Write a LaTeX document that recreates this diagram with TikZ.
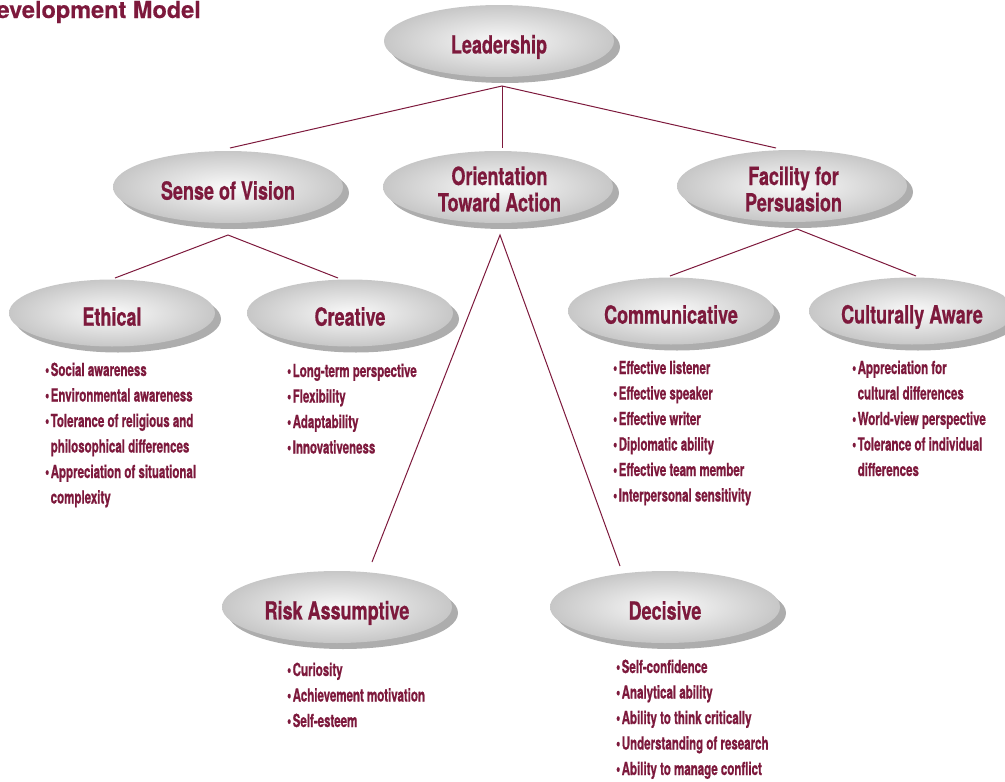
\documentclass[tikz,border=0pt]{standalone}
\usepackage{fontspec}
\setmainfont{TeX Gyre Heros}
\newfontfamily\headfont[FakeStretch=0.72,FakeBold=0.6]{TeX Gyre Heros}
\newfontfamily\itemfont[FakeStretch=0.64,FakeBold=0.8]{TeX Gyre Heros}
\newfontfamily\titlefont[FakeBold=0.5]{TeX Gyre Heros}
\usetikzlibrary{shapes.geometric}
\definecolor{lmaroon}{RGB}{125,25,60}
\tikzset{
  bubble/.style={ellipse, inner sep=0pt, shade, inner color=black!2, outer color=black!22,
    text=lmaroon, align=center,
    font=\headfont\bfseries\fontsize{25}{26}\selectfont,
    preaction={fill=black!32, transform canvas={shift={(6pt,-6pt)}}}},
  bigbubble/.style={bubble, minimum width=230pt, minimum height=72pt},
  smallbubble/.style={bubble, minimum width=206pt, minimum height=67pt},
  headtext/.style={anchor=base, inner sep=0pt, text=lmaroon,
    font=\headfont\bfseries\fontsize{25}{26}\selectfont},
  link/.style={draw=lmaroon, line width=1pt},
  items/.style={anchor=base west, inner sep=0pt, text=lmaroon,
    font=\itemfont\bfseries\fontsize{18}{25.5}\selectfont},
}
\newcommand{\hs}{\rule[-5pt]{0pt}{35.4pt}}
\newcommand{\bul}{\textbullet\hspace{1.5pt}}
\newcommand{\nob}{\phantom{\textbullet}\hspace{1.5pt}}
\begin{document}
\begin{tikzpicture}[x=1pt,y=-1pt]
\useasboundingbox (0,0) rectangle (1005,782);
\node[anchor=base east, inner sep=0pt, text=lmaroon, font=\titlefont\bfseries\fontsize{23.5}{24}\selectfont] (title) at (201,18) {evelopment Model};

% connectors
\coordinate (leadj) at (502,86);
\coordinate (visj) at (230,148);
\coordinate (orij) at (502,148);
\coordinate (facj) at (776,148);
\coordinate (visb) at (228,235);
\coordinate (ethj) at (115,278);
\coordinate (crej) at (338,278);
\coordinate (facb) at (797,229);
\coordinate (comj) at (670,276);
\coordinate (culj) at (916,276);
\coordinate (orib) at (500,235);
\coordinate (riskj) at (372,562);
\coordinate (decj) at (620,566);
\draw[link] (visj) -- (leadj) -- (facj);
\draw[link] (leadj) -- (orij);
\draw[link] (ethj) -- (visb) -- (crej);
\draw[link] (comj) -- (facb) -- (culj);
\draw[link] (riskj) -- (orib) -- (decj);

% ellipses
\node[bigbubble] (lead) at (499,41) {\hs Leadership};
\node[bigbubble] (vis) at (228,187) {\hs Sense of Vision};
\node[bigbubble] (ori) at (498,187) {};
\node[headtext] (orit) at (499.5,185) {\begin{tabular}[t]{@{}c@{}}Orientation\\Toward Action\end{tabular}};
\node[bigbubble] (fac) at (792,186) {};
\node[headtext] (fact) at (793.5,185) {\begin{tabular}[t]{@{}c@{}}Facility for\\Persuasion\end{tabular}};
\node[smallbubble] (eth) at (112,313) {\hs Ethical};
\node[smallbubble] (cre) at (350,313) {\hs Creative};
\node[smallbubble] (com) at (671,311) {\hs Communicative};
\node[smallbubble] (cul) at (912,311) {\hs Culturally Aware};
\node[bigbubble] (risk) at (337,607) {\hs Risk Assumptive};
\node[bigbubble] (dec) at (665,607) {\hs Decisive};

% lists
\node[items] (ethl) at (45,376) {\begin{tabular}[t]{@{}l@{}}
\bul Social awareness\\
\bul Environmental awareness\\
\bul Tolerance of religious and\\
\nob philosophical differences\\
\bul Appreciation of situational\\
\nob complexity\end{tabular}};
\node[items] (crel) at (287,377) {\begin{tabular}[t]{@{}l@{}}
\bul Long-term perspective\\
\bul Flexibility\\
\bul Adaptability\\
\bul Innovativeness\end{tabular}};
\node[items] (coml) at (613,374) {\begin{tabular}[t]{@{}l@{}}
\bul Effective listener\\
\bul Effective speaker\\
\bul Effective writer\\
\bul Diplomatic ability\\
\bul Effective team member\\
\bul Interpersonal sensitivity\end{tabular}};
\node[items] (cull) at (852,374) {\begin{tabular}[t]{@{}l@{}}
\bul Appreciation for\\
\nob cultural differences\\
\bul World-view perspective\\
\bul Tolerance of individual\\
\nob differences\end{tabular}};
\node[items] (riskl) at (287,676) {\begin{tabular}[t]{@{}l@{}}
\bul Curiosity\\
\bul Achievement motivation\\
\bul Self-esteem\end{tabular}};
\node[items] (decl) at (616,673) {\begin{tabular}[t]{@{}l@{}}
\bul Self-confidence\\
\bul Analytical ability\\
\bul Ability to think critically\\
\bul Understanding of research\\
\bul Ability to manage conflict\end{tabular}};
\end{tikzpicture}
\end{document}
